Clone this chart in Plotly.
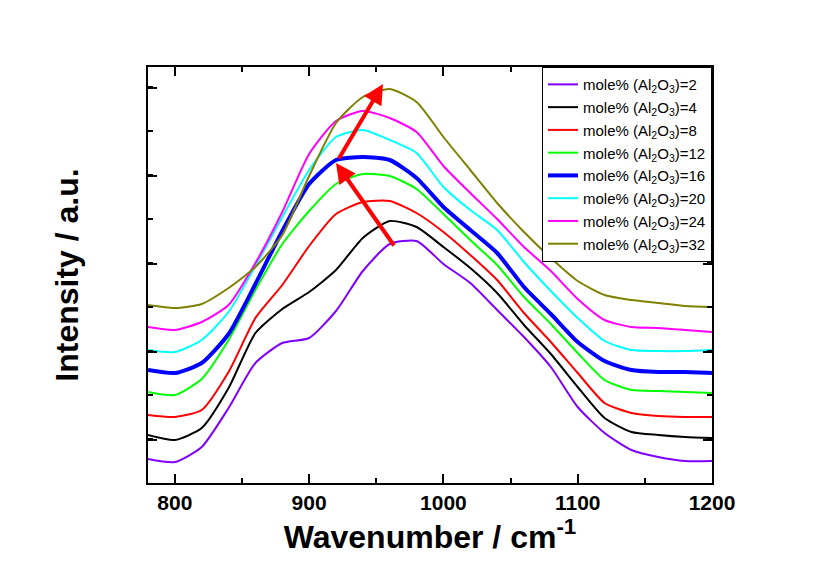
import plotly.graph_objects as go

# Wavenumber (cm^-1)
wavenumber = [780, 800, 820, 840, 860, 880, 900, 920, 940, 960, 980, 1000,
              1020, 1040, 1060, 1080, 1100, 1120, 1140, 1160, 1180, 1200]

# Intensity (a.u., stacked spectra)
al2 = [24, 21, 36, 75, 120, 140, 145, 172, 212, 239, 242, 219, 200, 173, 146, 116, 76, 50, 33, 26, 22, 22]
al4 = [48, 43, 55, 95, 150, 174, 191, 213, 245, 262, 256, 236, 215, 190, 158, 129, 96, 65, 51, 48, 46, 45]
al8 = [68, 66, 73, 111, 165, 198, 237, 269, 281, 282, 270, 251, 228, 203, 170, 141, 110, 80, 70, 67, 66, 66]
al12 = [91, 88, 104, 143, 193, 239, 272, 299, 309, 307, 294, 269, 243, 218, 186, 159, 130, 103, 93, 92, 91, 90]
al16 = [113, 110, 120, 149, 199, 252, 299, 323, 326, 323, 305, 276, 253, 230, 196, 169, 141, 122, 113, 111, 111, 110]
al20 = [133, 131, 143, 171, 217, 266, 313, 346, 353, 343, 330, 296, 273, 253, 221, 192, 165, 142, 133, 132, 132, 133]
al24 = [156, 153, 161, 178, 220, 271, 329, 362, 372, 365, 351, 317, 290, 264, 236, 212, 184, 163, 156, 155, 153, 151]
al32 = [178, 175, 179, 195, 216, 248, 307, 360, 386, 394, 381, 346, 313, 280, 251, 225, 202, 188, 183, 180, 177, 176]

series = [
    ("2", al2, "#8000FF", 2),
    ("4", al4, "#000000", 2),
    ("8", al8, "#FF0000", 2),
    ("12", al12, "#00FF00", 2),
    ("16", al16, "#0000FF", 4),
    ("20", al20, "#00FFFF", 2),
    ("24", al24, "#FF00FF", 2),
    ("32", al32, "#808000", 2),
]

# arrows (tail -> head) in data coordinates
arrows = [
    ((964, 236), (920, 320)),
    ((921.5, 323), (955, 399)),
]

FONT = "Liberation Sans, Arial, sans-serif"

fig = go.Figure()
for name, ys, color, w in series:
    fig.add_trace(go.Scatter(
        x=wavenumber, y=ys, mode="lines",
        line=dict(color=color, width=w, shape="spline", smoothing=0.6),
        name=(f'<span style="font-size:15px">mole% (Al<sub>2</sub>O<sub>3</sub>)={name}</span>'),
    ))

for (tx, ty), (hx, hy) in arrows:
    fig.add_annotation(
        x=hx, y=hy, ax=tx, ay=ty, xref="x", yref="y", axref="x", ayref="y",
        text="", showarrow=True, arrowhead=2, arrowsize=1, arrowwidth=4,
        arrowcolor="#FF0000", standoff=0,
    )

fig.update_layout(
    width=832, height=584,
    margin=dict(l=140, r=128, t=59, b=109),
    paper_bgcolor="white", plot_bgcolor="white",
    font=dict(family=FONT, color="black"),
    showlegend=True,
    legend=dict(
        x=1, y=1, xanchor="right", yanchor="top",
        bordercolor="black", borderwidth=1, bgcolor="white",
        font=dict(size=15.2, family=FONT),
        tracegroupgap=0, entrywidth=141,
    ),
)

fig.update_xaxes(
    range=[780, 1200], tick0=800, dtick=100,
    ticks="inside", ticklen=9, tickwidth=2, tickcolor="black",
    minor=dict(dtick=50, ticks="inside", ticklen=5, tickwidth=2, tickcolor="black"),
    showline=True, linecolor="black", linewidth=2, mirror="ticks",
    showgrid=False, zeroline=False,
    tickfont=dict(size=21, family=FONT),
    title=dict(text="<b>Wavenumber / cm<sup>-1</sup></b>", font=dict(size=32, family=FONT), standoff=8),
    tickprefix="<b>", ticksuffix="</b>",
)
fig.update_yaxes(
    range=[0, 416], tick0=43, dtick=88,
    ticks="inside", ticklen=9, tickwidth=2, tickcolor="black",
    minor=dict(dtick=44, ticks="inside", ticklen=5, tickwidth=2, tickcolor="black"),
    showline=True, linecolor="black", linewidth=2, mirror="ticks",
    showgrid=False, zeroline=False, showticklabels=False,
    title=dict(text="<b>Intensity / a.u.</b>", font=dict(size=32, family=FONT), standoff=58),
)

fig.write_html("out.html")
